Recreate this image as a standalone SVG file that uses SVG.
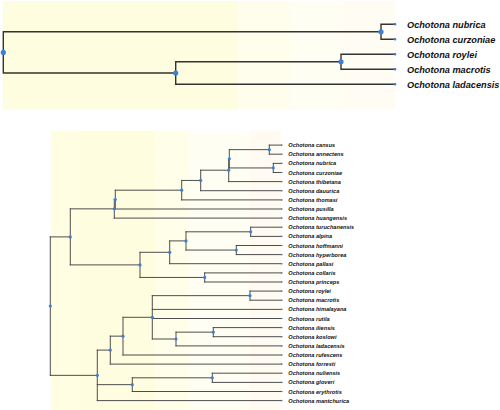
<svg xmlns="http://www.w3.org/2000/svg" width="500" height="410" viewBox="0 0 500 410">
<style>
.e1{fill:none;stroke:#333;stroke-width:1.4;stroke-linecap:square}
.e2{fill:none;stroke:#444;stroke-width:0.95;stroke-linecap:square}
.nd{fill:#3b7fd6}
.t1{font-family:"Liberation Sans",Arial,sans-serif;font-weight:bold;font-style:italic;font-size:9.2px;fill:#111}
.t2{font-family:"Liberation Sans",Arial,sans-serif;font-weight:bold;font-style:italic;font-size:5.6px;fill:#111}
</style>
<rect width="500" height="410" fill="#fff"/>
<g id="background">
<rect x="3" y="1" width="235.3" height="108.5" fill="#fffde0"/>
<rect x="238.3" y="1" width="51.7" height="108.5" fill="#fffeec"/>
<rect x="290" y="1" width="53" height="108.5" fill="#fffef2"/>
<rect x="343" y="1" width="52" height="108.5" fill="#fffcf3"/>
<rect x="51" y="130.7" width="29" height="279.3" fill="#fffde2"/>
<rect x="80" y="130.7" width="75" height="279.3" fill="#fffddf"/>
<rect x="155" y="130.7" width="35" height="279.3" fill="#fffee9"/>
<rect x="190" y="130.7" width="60" height="279.3" fill="#fffef2"/>
<rect x="250" y="130.7" width="31" height="279.3" fill="#fffbf2"/>
</g>
<g id="connectors">
<path class="e1" d="M3.3,31.8V73 M3.3,31.8H381 M3.3,73H175.7 M381,24.3V39.3 M381,24.3H395 M381,39.3H395 M175.7,61.8V84.3 M175.7,61.8H341 M175.7,84.3H395 M341,54.3V69.3 M341,54.3H395 M341,69.3H395"/>
<path class="e2" d="M50.3,236.9V375.35 M50.3,236.9H70.3 M50.3,375.35H97.3
M70.3,208.85V264.9 M70.3,208.85H114.3 M70.3,264.9H140
M114.3,199.6V218.1 M114.3,199.6H115.3 M114.3,218.1H281.7
M115.3,190.2V209 M115.3,190.2H181.7 M115.3,209H281.7
M181.7,180.45V199.9 M181.7,180.45H200.7 M181.7,199.9H281.7
M200.7,170.2V190.7 M200.7,170.2H228.7 M200.7,190.7H281.7
M228.7,158.8V181.6 M228.7,158.8H229.3 M228.7,181.6H281.7
M229.3,149.65V167.95 M229.3,149.65H269.3 M229.3,167.95H273.3
M269.3,145.1V154.2 M269.3,145.1H281.7 M269.3,154.2H281.7
M273.3,163.4V172.5 M273.3,163.4H281.7 M273.3,172.5H281.7
M140,252.3V277.45 M140,252.3H169.7 M140,277.45H204.7
M169.7,240.9V263.7 M169.7,240.9H186 M169.7,263.7H281.7
M186,231.8V250.05 M186,231.8H250.7 M186,250.05H236.3
M250.7,227.2V236.4 M250.7,227.2H281.7 M250.7,236.4H281.7
M236.3,245.5V254.6 M236.3,245.5H281.7 M236.3,254.6H281.7
M204.7,272.9V282 M204.7,272.9H281.7 M204.7,282H281.7
M97.3,350.1V400.6 M97.3,350.1H110.3 M97.3,384.65H132.3 M97.3,400.6H281.7
M110.3,336.15V364.1 M110.3,336.15H123 M110.3,364.1H281.7
M123,317.3V355 M123,317.3H152.3 M123,355H281.7
M152.3,295.65V339 M152.3,295.65H250 M152.3,309.4H281.7 M152.3,318.5H281.7 M152.3,339H176
M250,291.1V300.2 M250,291.1H281.7 M250,300.2H281.7
M176,332.15V345.9 M176,332.15H213.3 M176,345.9H281.7
M213.3,327.6V336.7 M213.3,327.6H281.7 M213.3,336.7H281.7
M132.3,377.8V391.5 M132.3,377.8H212.3 M132.3,391.5H281.7
M212.3,373.2V382.4 M212.3,373.2H281.7 M212.3,382.4H281.7"/>
</g>
<g id="top-internal-nodes" class="nd">
<circle id="t-root" cx="3.3" cy="52.4" r="2.6"/>
<circle id="t-n1" cx="381" cy="31.8" r="2.6"/>
<circle id="t-n2" cx="175.7" cy="73" r="2.6"/>
<circle id="t-n3" cx="341" cy="61.8" r="2.6"/>
</g>
<g id="top-tip-nubrica"><circle class="nd" cx="395" cy="24.3" r="1.3"/><text class="t1" x="407" y="27.6">Ochotona nubrica</text></g>
<g id="top-tip-curzoniae"><circle class="nd" cx="395" cy="39.3" r="1.3"/><text class="t1" x="407" y="42.6">Ochotona curzoniae</text></g>
<g id="top-tip-roylei"><circle class="nd" cx="395" cy="54.3" r="1.3"/><text class="t1" x="407" y="57.6">Ochotona roylei</text></g>
<g id="top-tip-macrotis"><circle class="nd" cx="395" cy="69.3" r="1.3"/><text class="t1" x="407" y="72.6">Ochotona macrotis</text></g>
<g id="top-tip-ladacensis"><circle class="nd" cx="395" cy="84.3" r="1.3"/><text class="t1" x="407" y="87.6">Ochotona ladacensis</text></g>
<g id="bottom-internal-nodes" class="nd">
<circle id="b-root" cx="50.3" cy="306.1" r="1.6"/>
<circle id="b-A" cx="70.3" cy="236.9" r="1.6"/>
<circle id="b-B" cx="114.3" cy="208.85" r="1.6"/>
<circle id="b-C" cx="115.3" cy="199.6" r="1.6"/>
<circle id="b-I" cx="181.7" cy="190.2" r="1.6"/>
<circle id="b-H" cx="200.7" cy="180.45" r="1.6"/>
<circle id="b-G" cx="228.7" cy="170.2" r="1.6"/>
<circle id="b-F" cx="229.3" cy="158.8" r="1.6"/>
<circle id="b-ca" cx="269.3" cy="149.65" r="1.6"/>
<circle id="b-nc" cx="273.3" cy="167.95" r="1.6"/>
<circle id="b-O" cx="140" cy="264.9" r="1.6"/>
<circle id="b-M" cx="169.7" cy="252.3" r="1.6"/>
<circle id="b-L" cx="186" cy="240.9" r="1.6"/>
<circle id="b-J" cx="250.7" cy="231.8" r="1.6"/>
<circle id="b-K" cx="236.3" cy="250.05" r="1.6"/>
<circle id="b-N" cx="204.7" cy="277.45" r="1.6"/>
<circle id="b-X" cx="97.3" cy="375.35" r="1.6"/>
<circle id="b-U" cx="110.3" cy="350.1" r="1.6"/>
<circle id="b-T" cx="123" cy="336.15" r="1.6"/>
<circle id="b-S" cx="152.3" cy="317.3" r="1.6"/>
<circle id="b-P" cx="250" cy="295.65" r="1.6"/>
<circle id="b-R" cx="176" cy="339" r="1.6"/>
<circle id="b-Q" cx="213.3" cy="332.15" r="1.6"/>
<circle id="b-W" cx="132.3" cy="384.65" r="1.6"/>
<circle id="b-V" cx="212.3" cy="377.8" r="1.6"/>
</g>
<g id="bottom-tips">
<g id="tip-cansus"><circle class="nd" cx="281.7" cy="145.1" r="0.8"/><text class="t2" x="288.3" y="147.1">Ochotona cansus</text></g>
<g id="tip-annectens"><circle class="nd" cx="281.7" cy="154.2" r="0.8"/><text class="t2" x="288.3" y="156.2">Ochotona annectens</text></g>
<g id="tip-nubrica"><circle class="nd" cx="281.7" cy="163.4" r="0.8"/><text class="t2" x="288.3" y="165.4">Ochotona nubrica</text></g>
<g id="tip-curzoniae"><circle class="nd" cx="281.7" cy="172.5" r="0.8"/><text class="t2" x="288.3" y="174.5">Ochotona curzoniae</text></g>
<g id="tip-thibetana"><circle class="nd" cx="281.7" cy="181.6" r="0.8"/><text class="t2" x="288.3" y="183.6">Ochotona thibetana</text></g>
<g id="tip-dauurica"><circle class="nd" cx="281.7" cy="190.7" r="0.8"/><text class="t2" x="288.3" y="192.7">Ochotona dauurica</text></g>
<g id="tip-thomasi"><circle class="nd" cx="281.7" cy="199.9" r="0.8"/><text class="t2" x="288.3" y="201.9">Ochotona thomasi</text></g>
<g id="tip-pusilla"><circle class="nd" cx="281.7" cy="209" r="0.8"/><text class="t2" x="288.3" y="211">Ochotona pusilla</text></g>
<g id="tip-huangensis"><circle class="nd" cx="281.7" cy="218.1" r="0.8"/><text class="t2" x="288.3" y="220.1">Ochotona huangensis</text></g>
<g id="tip-turuchanensis"><circle class="nd" cx="281.7" cy="227.2" r="0.8"/><text class="t2" x="288.3" y="229.2">Ochotona turuchanensis</text></g>
<g id="tip-alpina"><circle class="nd" cx="281.7" cy="236.4" r="0.8"/><text class="t2" x="288.3" y="238.4">Ochotona alpina</text></g>
<g id="tip-hoffmanni"><circle class="nd" cx="281.7" cy="245.5" r="0.8"/><text class="t2" x="288.3" y="247.5">Ochotona hoffmanni</text></g>
<g id="tip-hyperborea"><circle class="nd" cx="281.7" cy="254.6" r="0.8"/><text class="t2" x="288.3" y="256.6">Ochotona hyperborea</text></g>
<g id="tip-pallasi"><circle class="nd" cx="281.7" cy="263.7" r="0.8"/><text class="t2" x="288.3" y="265.7">Ochotona pallasi</text></g>
<g id="tip-collaris"><circle class="nd" cx="281.7" cy="272.9" r="0.8"/><text class="t2" x="288.3" y="274.9">Ochotona collaris</text></g>
<g id="tip-princeps"><circle class="nd" cx="281.7" cy="282" r="0.8"/><text class="t2" x="288.3" y="284">Ochotona princeps</text></g>
<g id="tip-roylei"><circle class="nd" cx="281.7" cy="291.1" r="0.8"/><text class="t2" x="288.3" y="293.1">Ochotona roylei</text></g>
<g id="tip-macrotis"><circle class="nd" cx="281.7" cy="300.2" r="0.8"/><text class="t2" x="288.3" y="302.2">Ochotona macrotis</text></g>
<g id="tip-himalayana"><circle class="nd" cx="281.7" cy="309.4" r="0.8"/><text class="t2" x="288.3" y="311.4">Ochotona himalayana</text></g>
<g id="tip-rutila"><circle class="nd" cx="281.7" cy="318.5" r="0.8"/><text class="t2" x="288.3" y="320.5">Ochotona rutila</text></g>
<g id="tip-iliensis"><circle class="nd" cx="281.7" cy="327.6" r="0.8"/><text class="t2" x="288.3" y="329.6">Ochotona iliensis</text></g>
<g id="tip-koslowi"><circle class="nd" cx="281.7" cy="336.7" r="0.8"/><text class="t2" x="288.3" y="338.7">Ochotona koslowi</text></g>
<g id="tip-ladacensis"><circle class="nd" cx="281.7" cy="345.9" r="0.8"/><text class="t2" x="288.3" y="347.9">Ochotona ladacensis</text></g>
<g id="tip-rufescens"><circle class="nd" cx="281.7" cy="355" r="0.8"/><text class="t2" x="288.3" y="357">Ochotona rufescens</text></g>
<g id="tip-forresti"><circle class="nd" cx="281.7" cy="364.1" r="0.8"/><text class="t2" x="288.3" y="366.1">Ochotona forresti</text></g>
<g id="tip-nuliensis"><circle class="nd" cx="281.7" cy="373.2" r="0.8"/><text class="t2" x="288.3" y="375.2">Ochotona nuliensis</text></g>
<g id="tip-gloveri"><circle class="nd" cx="281.7" cy="382.4" r="0.8"/><text class="t2" x="288.3" y="384.4">Ochotona gloveri</text></g>
<g id="tip-erythrotis"><circle class="nd" cx="281.7" cy="391.5" r="0.8"/><text class="t2" x="288.3" y="393.5">Ochotona erythrotis</text></g>
<g id="tip-mantchurica"><circle class="nd" cx="281.7" cy="400.6" r="0.8"/><text class="t2" x="288.3" y="402.6">Ochotona mantchurica</text></g>
</g>
</svg>
